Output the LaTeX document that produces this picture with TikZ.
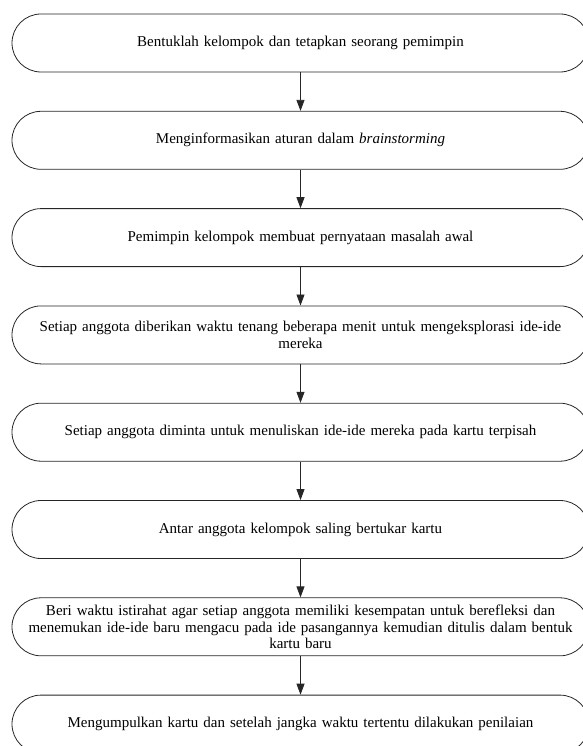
\documentclass[tikz,border=0pt]{standalone}
\usepackage{fontspec}
\setmainfont{Liberation Serif}
\usetikzlibrary{arrows.meta}
\begin{document}
\begin{tikzpicture}[x=1pt,y=-1pt,
  stepbox/.style={draw=black!85, line width=0.8pt, rounded corners=29pt,
    minimum width=577pt, minimum height=58pt, inner sep=0pt,
    text width=560pt, align=center, font=\fontsize{15}{16.5}\selectfont},
  flow/.style={draw=black!85, line width=0.8pt, -{Triangle[length=11pt,width=8pt]}}]
\useasboundingbox (0,0) rectangle (582,746);
\node[stepbox] (b1) at (300.5,43) {Bentuklah kelompok dan tetapkan seorang pemimpin};
\node[stepbox] (b2) at (300.5,140.3) {Menginformasikan aturan dalam \textit{brainstorming}};
\node[stepbox] (b3) at (300.5,237.6) {Pemimpin kelompok membuat pernyataan masalah awal};
\node[stepbox] (b4) at (300.5,334.9) {Setiap anggota diberikan waktu tenang beberapa menit untuk mengeksplorasi ide-ide\\ mereka};
\node[stepbox] (b5) at (300.5,432.2) {Setiap anggota diminta untuk menuliskan ide-ide mereka pada kartu terpisah};
\node[stepbox] (b6) at (300.5,529.5) {Antar anggota kelompok saling bertukar kartu};
\node[stepbox] (b7) at (300.5,626.8) {Beri waktu istirahat agar setiap anggota memiliki kesempatan untuk berefleksi dan\\ menemukan ide-ide baru mengacu pada ide pasangannya kemudian ditulis dalam bentuk\\ kartu baru};
\node[stepbox] (b8) at (300.5,724.1) {Mengumpulkan kartu dan setelah jangka waktu tertentu dilakukan penilaian};
\foreach \a/\b in {b1/b2,b2/b3,b3/b4,b4/b5,b5/b6,b6/b7,b7/b8}
  \draw[flow] (\a.south) -- (\b.north);
\end{tikzpicture}
\end{document}
